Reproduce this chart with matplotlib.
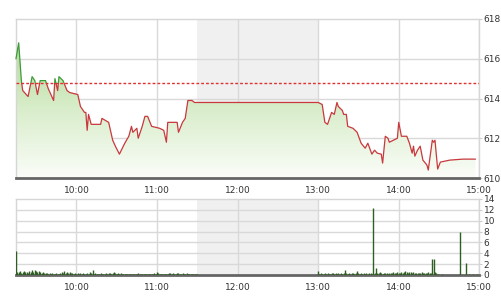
import matplotlib
matplotlib.use("Agg")
import matplotlib.pyplot as plt
import numpy as np
from matplotlib.patches import Rectangle
from matplotlib.colors import LinearSegmentedColormap

# ---------------- data ----------------
price_times = ["09:15", "09:17", "09:19", "09:20", "09:24", "09:27", "09:29", "09:31", "09:33",
               "09:37", "09:39", "09:43", "09:44", "09:46", "09:47", "09:50", "09:53", "09:55",
               "10:01", "10:03", "10:06", "10:07", "10:08", "10:09", "10:11", "10:18", "10:19", "10:24",
               "10:27", "10:29", "10:32", "10:36", "10:39", "10:41", "10:42", "10:45", "10:46",
               "10:49", "10:51", "10:53", "10:56", "11:02", "11:05", "11:07", "11:08", "11:11",
               "11:15", "11:16", "11:19", "11:21", "11:23", "11:26", "11:28", "11:30",
               "13:00", "13:03", "13:05", "13:07", "13:10", "13:12", "13:14", "13:15", "13:18",
               "13:19", "13:21", "13:22", "13:26", "13:29", "13:32", "13:35", "13:37", "13:40",
               "13:42", "13:44", "13:47", "13:48", "13:50", "13:52", "13:53", "13:59", "14:00",
               "14:02", "14:06", "14:08", "14:10", "14:11", "14:12", "14:14", "14:16", "14:18",
               "14:21", "14:22", "14:25", "14:26", "14:27", "14:29", "14:31", "14:38", "14:48",
               "14:57"]
price_values = [616.0, 616.8, 614.9, 614.4, 614.1, 615.1, 614.9, 614.2, 614.9,
                614.9, 614.5, 613.9, 615.0, 614.4, 615.1, 614.9, 614.4, 614.3,
                614.2, 613.6, 613.3, 613.3, 612.4, 613.2, 612.7, 612.7, 613.0, 612.8,
                611.9, 611.6, 611.2, 611.75, 612.1, 612.6, 612.3, 612.5, 612.0,
                612.6, 613.1, 613.1, 612.6, 612.5, 612.4, 611.8, 612.8, 612.8,
                612.8, 612.3, 612.8, 613.0, 613.9, 613.9, 613.8, 613.8,
                613.8, 613.7, 612.8, 612.7, 613.3, 613.2, 613.8, 613.6, 613.4,
                613.2, 613.2, 612.6, 612.5, 612.3, 611.75, 611.5, 611.75, 611.2,
                611.4, 611.25, 611.2, 610.75, 612.1, 612.0, 611.8, 612.0, 612.8,
                612.1, 612.1, 611.75, 611.25, 611.6, 611.1, 611.4, 611.6, 610.9,
                610.65, 610.4, 611.9, 611.8, 611.9, 610.45, 610.8, 610.9, 610.95,
                610.95]
reference_price = 614.8

# volume, one value per minute
vol_am_start = "09:15"
vol_am = [4.5, 0.6, 0.5, 0.7, 0.4, 0.6, 0.8, 0.5, 0.6, 0.4,
          0.7, 0.5, 0.9, 0.6, 1.0, 0.7, 0.5, 0.8, 0.6, 0.4,
          0.5, 0.3, 0.4, 0.3, 0.2, 0.3, 0.2, 0.3, 0.2, 0.2,
          0.3, 0.2, 0.2, 0.3, 0.6, 0.4, 0.7, 0.3, 0.5, 0.3,
          0.6, 0.4, 0.3, 0.2, 0.3, 0.2, 0.3, 0.2, 0.4, 0.2,
          0.3, 0.2, 0.2, 0.3, 0.2, 0.5, 0.3, 1.0, 0.2, 0.3,
          0.2, 0.1, 0.2, 0.3, 0.2, 0.2, 0.1, 0.3, 0.2, 0.3,
          0.4, 0.2, 0.3, 0.5, 0.3, 0.2, 0.4, 0.2, 0.3, 0.2,
          0.1, 0.2, 0.1, 0.2, 0.1, 0.2, 0.2, 0.1, 0.2, 0.1,
          0.2, 0.3, 0.2, 0.2, 0.1, 0.2, 0.2, 0.1, 0.2, 0.1,
          0.1, 0.2, 0.2, 0.3, 0.2, 0.5, 0.3, 0.2, 0.1, 0.1,
          0.2, 0.2, 0.1, 0.2, 0.3, 0.4, 0.2, 0.3, 0.2, 0.2,
          0.4, 0.3, 0.2, 0.2, 0.3, 0.2, 0.2, 0.3, 0.2, 0.2,
          0.1, 0.2, 0.1, 0.2, 0.1, 0.1]
vol_pm_start = "13:00"
vol_pm = [0.8, 0.2, 0.3, 0.2, 0.2, 0.3, 0.2, 0.3, 0.2, 0.2,
          0.3, 0.4, 0.2, 0.3, 0.2, 0.3, 0.2, 0.3, 0.2, 0.3,
          1.0, 0.3, 0.2, 0.3, 0.2, 0.4, 0.3, 0.2, 0.3, 0.8,
          0.3, 0.2, 0.3, 0.2, 0.3, 0.2, 0.3, 0.2, 0.4, 0.3,
          0.2, 12.3, 0.3, 1.2, 0.4, 0.3, 0.6, 0.3, 0.2, 0.3,
          0.4, 0.3, 0.2, 0.3, 0.4, 0.3, 0.5, 0.3, 0.4, 0.6,
          0.4, 0.3, 0.5, 0.4, 0.6, 0.8, 0.5, 0.4, 0.6, 0.5,
          0.4, 0.5, 0.3, 0.4, 0.3, 0.4, 0.3, 0.5, 0.4, 0.3,
          0.4, 0.3, 0.5, 0.4, 0.3, 3.0, 2.9, 0.5, 0.3, 0.1,
          0.0, 0.0, 0.1, 0.0, 0.0, 0.0, 0.0, 0.0, 0.0, 0.0,
          0.0, 0.0, 0.0, 0.0, 0.0, 0.0, 8.0, 0.0, 0.0, 0.0,
          2.2, 0.0, 0.1, 0.0, 0.0, 0.2, 0.0, 0.0, 0.2, 0.0,
          0.0]

hour_ticks = [10, 11, 12, 13, 14, 15]
price_ticks = [610, 612, 614, 616, 618]
vol_ticks = [0, 2, 4, 6, 8, 10, 12, 14]
lunch_start, lunch_end = "11:30", "13:00"


def to_h(s):
    h, m = s.split(":")
    return int(h) + int(m) / 60.0


px = np.array([to_h(t) for t in price_times])
py = np.array(price_values)
am0 = to_h(vol_am_start)
pm0 = to_h(vol_pm_start)
vx = np.concatenate([am0 + np.arange(len(vol_am)) / 60.0, pm0 + np.arange(len(vol_pm)) / 60.0])
vy = np.array(vol_am + vol_pm)

# ---------------- figure ----------------
fig = plt.figure(figsize=(5.01, 3.00), dpi=100)
ax1 = fig.add_axes([16 / 501, 1 - 178 / 300, (479.3 - 16) / 501, (178 - 19) / 300])
ax2 = fig.add_axes([16 / 501, 1 - 275 / 300, (479.3 - 16) / 501, (275 - 199) / 300])

grid_c = "#d9d9d9"
label_c = "#333333"
for ax in (ax1, ax2):
    ax.set_xlim(9.25, 15.0)
    ax.axvspan(to_h(lunch_start), to_h(lunch_end), color="#f0f0f0", zorder=0, lw=0)
    for h in hour_ticks:
        ax.axvline(h, color=grid_c, lw=1, zorder=0.5)
    ax.set_xticks(hour_ticks)
    ax.set_xticklabels([f"{h}:00" for h in hour_ticks])
    ax.yaxis.tick_right()
    ax.tick_params(axis="x", length=0, pad=6, labelsize=6.5, labelcolor=label_c)
    ax.tick_params(axis="y", length=2, width=0.8, color="#cccccc", pad=1,
                   labelsize=6.5, labelcolor=label_c)
    for s in ("top", "left", "right"):
        ax.spines[s].set_color("#d6d6d6")
        ax.spines[s].set_linewidth(1)
    ax.spines["bottom"].set_color("#666666")
    ax.spines["bottom"].set_linewidth(2)
    ax.set_facecolor("white")

# price panel
ax1.set_ylim(610, 618)
ax1.set_yticks(price_ticks)
ax1.set_yticklabels([str(v) for v in price_ticks])
for v in price_ticks[1:-1]:
    ax1.axhline(v, color=grid_c, lw=1, zorder=0.5)

poly = ax1.fill_between(px, py, 610, facecolor="none", edgecolor="none")
cmap = LinearSegmentedColormap.from_list("g", ["#fbfdf9", "#d8edca", "#b0da95"])
grad = np.linspace(0, 1, 256).reshape(-1, 1)
im = ax1.imshow(grad, cmap=cmap, aspect="auto", origin="lower",
                extent=[9.25, 15.0, 610, 617.0], zorder=1)
im.set_clip_path(poly.get_paths()[0], transform=ax1.transData)
ax1.set_ylim(610, 618)
ax1.set_xlim(9.25, 15.0)

ax1.axhline(reference_price, color="#e03030", lw=1, ls=(0, (2, 1.5)), zorder=3)
red_line, = ax1.plot(px, py, color="#c8383c", lw=0.9, zorder=4)
red_line.set_clip_path(Rectangle((9.0, 600), 7, reference_price - 600, transform=ax1.transData))
green_line, = ax1.plot(px, py, color="#3f9a3a", lw=0.9, zorder=4)
green_line.set_clip_path(Rectangle((9.0, reference_price), 7, 20, transform=ax1.transData))

# volume panel
ax2.set_ylim(0, 14)
ax2.set_yticks(vol_ticks)
ax2.set_yticklabels([str(v) for v in vol_ticks])
for v in vol_ticks[1:-1]:
    ax2.axhline(v, color=grid_c, lw=1, zorder=0.5)
ax2.vlines(vx, 0, vy, color="#2f5e22", lw=1.0, zorder=3)

fig.savefig("out.png", dpi=100)
